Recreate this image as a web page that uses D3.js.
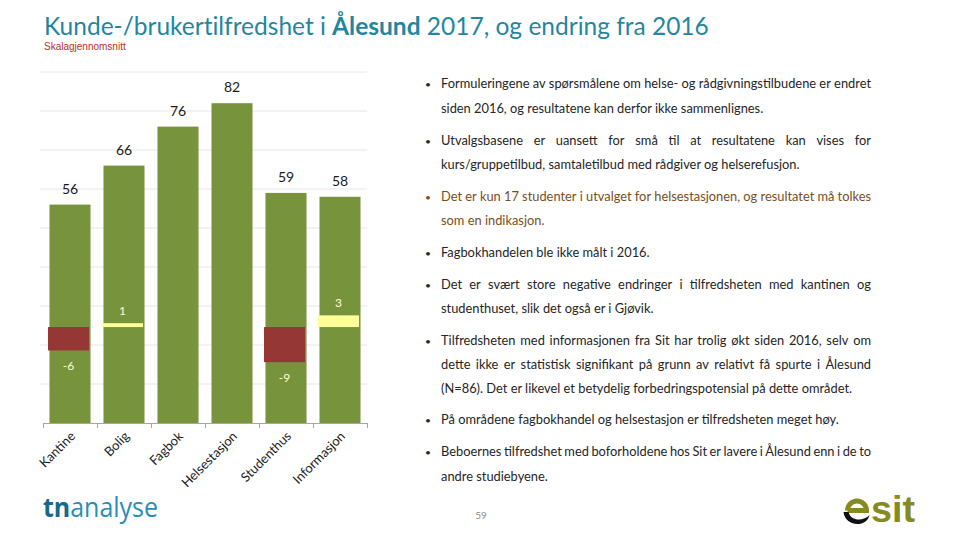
<!DOCTYPE html>
<html>
<head>
<meta charset="utf-8">
<script src="https://cdn.jsdelivr.net/npm/d3@7"></script>
<style>
  html, body { margin: 0; padding: 0; background: #ffffff; }
  svg { display: block; }
</style>
</head>
<body>
<svg id="chart" width="960" height="540"></svg>
<script>
// ---------- DATA ----------
const categories = ["Kantine", "Bolig", "Fagbok", "Helsestasjon", "Studenthus", "Informasjon"];
const values2017 = [56, 66, 76, 82, 59, 58];
const change2016 = [-6, 1, null, null, -9, 3];
const yTicks = [0, 10, 20, 30, 40, 50, 60, 70, 80, 90];

const titleParts = [
  { text: "Kunde-/brukertilfredshet i ", bold: false },
  { text: "Ålesund", bold: true },
  { text: " 2017, og endring fra 2016", bold: false }
];
const subtitle = "Skalagjennomsnitt";

const bullets = [
  { lines: ["Formuleringene av spørsmålene om helse- og rådgivningstilbudene er endret",
            "siden 2016, og resultatene kan derfor ikke sammenlignes."], highlight: false },
  { lines: ["Utvalgsbasene er uansett for små til at resultatene kan vises for",
            "kurs/gruppetilbud, samtaletilbud med rådgiver og helserefusjon."], highlight: false },
  { lines: ["Det er kun 17 studenter i utvalget for helsestasjonen, og resultatet må tolkes",
            "som en indikasjon."], highlight: true },
  { lines: ["Fagbokhandelen ble ikke målt i 2016."], highlight: false },
  { lines: ["Det er svært store negative endringer i tilfredsheten med kantinen og",
            "studenthuset, slik det også er i Gjøvik."], highlight: false },
  { lines: ["Tilfredsheten med informasjonen fra Sit har trolig økt siden 2016, selv om",
            "dette ikke er statistisk signifikant på grunn av relativt få spurte i Ålesund",
            "(N=86). Det er likevel et betydelig forbedringspotensial på dette området."], highlight: false },
  { lines: ["På områdene fagbokhandel og helsestasjon er tilfredsheten meget høy."], highlight: false },
  { lines: ["Beboernes tilfredshet med boforholdene hos Sit er lavere i Ålesund enn i de to",
            "andre studiebyene."], highlight: false }
];
const lineTops = [[84, 109], [141, 165], [197, 221], [253], [285, 309], [341, 365, 389], [420], [452, 477]];
const pageNumber = "59";

// ---------- STYLE ----------
const BODY_FONT = "Lato, 'Open Sans', sans-serif";
const GREEN = "#77933C", RED = "#953735", YELLOW = "#FFFF99";
const TEAL = "#1F87A0";
const OLIVE = "#868A22";

const svg = d3.select("#chart");

// ---------- TITLE ----------
const title = svg.append("text")
  .attr("x", 44).attr("y", 35)
  .attr("font-family", BODY_FONT)
  .attr("font-size", 25)
  .attr("fill", TEAL)
  .style("font-variant-ligatures", "none");
titleParts.forEach(p => title.append("tspan").attr("font-weight", p.bold ? 700 : 400).text(p.text));
{
  const w = title.node().getComputedTextLength();
  title.attr("font-size", 25 * 665 / w);
}
svg.append("text")
  .attr("x", 44).attr("y", 50)
  .attr("font-family", "'Liberation Sans', Arial, sans-serif")
  .attr("font-size", 10)
  .attr("fill", "#B8302E")
  .text(subtitle);

// ---------- CHART ----------
const x = d3.scaleBand().domain(categories).range([43, 367]).paddingInner(0.24).paddingOuter(0.12);
const y = d3.scaleLinear().domain([0, 90]).range([423, 72]);
const yc = d3.scaleLinear().domain([-24.6, 65.4]).range([423, 72]);
const tickPos = d3.scaleLinear().domain([0, categories.length]).range([43, 367]);

const chart = svg.append("g");

// gridlines
chart.append("g")
  .selectAll("line")
  .data(yTicks.filter(t => t > 0))
  .join("line")
  .attr("x1", 40).attr("x2", 367)
  .attr("y1", d => y(d)).attr("y2", d => y(d))
  .attr("stroke", "#E6E6E6").attr("stroke-width", 1);

const data = categories.map((c, i) => ({ cat: c, v: values2017[i], ch: change2016[i] }));

// main bars
chart.append("g")
  .selectAll("rect")
  .data(data)
  .join("rect")
  .attr("x", d => x(d.cat))
  .attr("width", x.bandwidth())
  .attr("y", d => y(d.v))
  .attr("height", d => y(0) - y(d.v))
  .attr("fill", GREEN);

// value labels
chart.append("g")
  .selectAll("text")
  .data(data)
  .join("text")
  .attr("x", d => x(d.cat) + x.bandwidth() / 2)
  .attr("y", d => y(d.v) - 11)
  .attr("text-anchor", "middle")
  .attr("font-family", BODY_FONT)
  .attr("font-size", 14)
  .attr("fill", "#1a1a1a")
  .text(d => d.v);

// change bars
const chData = data.filter(d => d.ch !== null);
chart.append("g")
  .selectAll("rect")
  .data(chData)
  .join("rect")
  .attr("x", d => x(d.cat) - 1.5)
  .attr("width", x.bandwidth())
  .attr("y", d => Math.min(yc(0), yc(d.ch)))
  .attr("height", d => Math.abs(yc(0) - yc(d.ch)))
  .attr("fill", d => d.ch < 0 ? RED : YELLOW);

chart.append("g")
  .selectAll("text")
  .data(chData)
  .join("text")
  .attr("x", d => x(d.cat) + x.bandwidth() / 2 - 1.5)
  .attr("y", d => d.ch < 0 ? yc(d.ch) + 20 : yc(d.ch) - 8)
  .attr("text-anchor", "middle")
  .attr("font-family", BODY_FONT)
  .attr("font-size", 12)
  .attr("fill", "#FFFFCC")
  .text(d => d.ch);

// x axis
const axisG = chart.append("g");
axisG.append("line")
  .attr("x1", 43).attr("x2", 367)
  .attr("y1", y(0) + 0.5).attr("y2", y(0) + 0.5)
  .attr("stroke", "#A6A6A6");
axisG.selectAll("line.tick")
  .data(d3.range(categories.length + 1))
  .join("line")
  .attr("class", "tick")
  .attr("x1", d => tickPos(d) + 0.5).attr("x2", d => tickPos(d) + 0.5)
  .attr("y1", y(0)).attr("y2", y(0) + 5)
  .attr("stroke", "#A6A6A6");
axisG.selectAll("text")
  .data(categories)
  .join("text")
  .attr("transform", d => `translate(${x(d) + x.bandwidth() / 2 + 6},${y(0) + 14}) rotate(-45)`)
  .attr("text-anchor", "end")
  .attr("font-family", BODY_FONT)
  .attr("font-size", 13)
  .attr("fill", "#1a1a1a")
  .text(d => d);

// ---------- BULLETS ----------
const TX = 441, TW = 430;
const bulletG = svg.append("g").attr("font-family", BODY_FONT);
const measurer = svg.append("text").attr("font-family", BODY_FONT).attr("visibility", "hidden");
let fs = 11.5;
measurer.attr("font-size", fs).text(bullets[6].lines[0]);
fs = fs * 398 / measurer.node().getComputedTextLength();
measurer.attr("font-size", fs);
function wordW(w) { measurer.text(w); return measurer.node().getComputedTextLength(); }

bullets.forEach((b, bi) => {
  const color = b.highlight ? "#7A4E1C" : "#262626";
  b.lines.forEach((line, li) => {
    const by = lineTops[bi][li] + 4;
    if (li === 0) {
      bulletG.append("text").attr("x", 425).attr("y", by - 0.5)
        .attr("font-size", fs * 0.8).attr("fill", color).text("•");
    }
    const isLast = li === b.lines.length - 1;
    const t = bulletG.append("text").attr("y", by).attr("font-size", fs).attr("fill", color);
    if (isLast) {
      t.attr("x", TX).text(line);
    } else {
      const words = line.split(" ");
      const ws = words.map(wordW);
      const gap = (TW - d3.sum(ws)) / (words.length - 1);
      let cx = TX;
      words.forEach((w, wi) => {
        t.append("tspan").attr("x", cx).text(w);
        cx += ws[wi] + gap;
      });
    }
  });
});
measurer.remove();

// ---------- FOOTER ----------
const tn = svg.append("text").attr("x", 43).attr("y", 517)
  .attr("font-family", "'Open Sans', sans-serif").attr("font-size", 27);
tn.append("tspan").attr("font-weight", 700).attr("fill", "#16698A").text("tn");
tn.append("tspan").attr("font-weight", 400).attr("fill", "#2A8DB6").text("analyse");
tn.attr("textLength", 115).attr("lengthAdjust", "spacingAndGlyphs");

svg.append("text").attr("x", 481).attr("y", 519)
  .attr("text-anchor", "middle")
  .attr("font-family", BODY_FONT).attr("font-size", 10).attr("fill", "#8c8c8c")
  .text(pageNumber);

const sit = svg.append("text").attr("x", 871).attr("y", 522)
  .attr("font-family", "'Liberation Sans', Arial, sans-serif")
  .attr("font-weight", 700).attr("font-size", 37).attr("fill", OLIVE)
  .text("sit");
sit.attr("textLength", 44).attr("lengthAdjust", "spacingAndGlyphs");

// sit symbol
svg.append("path")
  .attr("d", "M847.5,510.5 A9.5,9.5 0 0 1 866.5,510.5 L847.5,510.5")
  .attr("fill", "none").attr("stroke", OLIVE).attr("stroke-width", 5);
svg.append("path")
  .attr("d", "M843.5,512 C845,527 867,528 869.5,515 C864,521 851,522 848.5,512 Z")
  .attr("fill", "#111");
</script>
</body>
</html>
